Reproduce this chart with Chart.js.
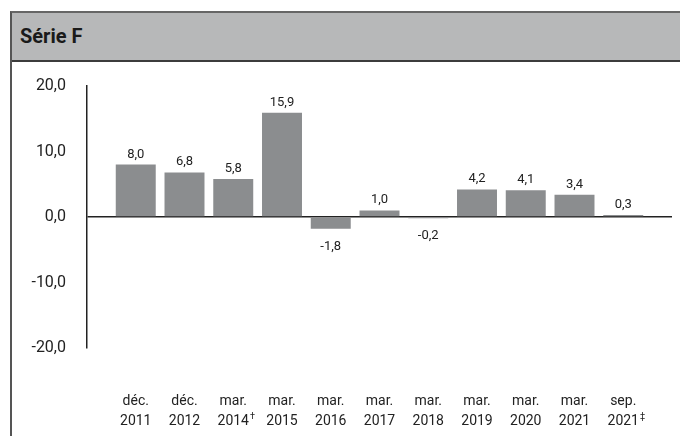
<!DOCTYPE html>
<html lang="fr">
<head>
<meta charset="utf-8">
<title>Série F</title>
<script src="https://cdn.jsdelivr.net/npm/chart.js@4.4.1/dist/chart.umd.min.js"></script>
<style>
  html, body { margin: 0; padding: 0; background: #fff; }
  body { width: 680px; height: 436px; position: relative; overflow: hidden;
         font-family: Roboto, "Liberation Sans", sans-serif; }
  .panel { position: absolute; left: 10px; top: 11px; right: 0; bottom: 0;
           border-left: 2px solid #555; border-top: 2px solid #666; }
  .panel h1 { margin: 0; height: 47px; line-height: 47px; background: #b7b8b9;
              border-bottom: 2px solid #3c3c3c; padding-left: 8px;
              font-size: 20px; font-weight: 700; color: #1a1a1a; }
  #chart { position: absolute; left: 0; top: 0; }
</style>
</head>
<body>
<div class="panel"><h1>Série F</h1></div>
<canvas id="chart" width="680" height="436"></canvas>
<script>
const months = ['déc.', 'déc.', 'mar.', 'mar.', 'mar.', 'mar.', 'mar.', 'mar.', 'mar.', 'mar.', 'sep.'];
const years = ['2011', '2012', '2014', '2015', '2016', '2017', '2018', '2019', '2020', '2021', '2021'];
const notes = ['', '', '†', '', '', '', '', '', '', '', '‡'];
const values = [8.0, 6.8, 5.8, 15.9, -1.8, 1.0, -0.2, 4.2, 4.1, 3.4, 0.3];
const yTicks = [-20, -10, 0, 10, 20];

const FONT = 'Roboto, "Liberation Sans", sans-serif';
const INK = '#222';
const LABEL_GAP = 43;   // space between plot bottom and first label line
const LINE_H = 20;

const fmt = v => v.toFixed(1).replace('.', ',');

// one empty slot on each side so the bars sit inside the axis span
const labels = [''].concat(months.map((m, i) => [m, years[i]]), ['']);
const data = [null].concat(values, [null]);

// value above positive bars, below negative ones
const valueLabels = {
  id: 'valueLabels',
  afterDatasetsDraw(chart) {
    const ctx = chart.ctx;
    const meta = chart.getDatasetMeta(0);
    ctx.save();
    ctx.font = '13px ' + FONT;
    ctx.fillStyle = INK;
    ctx.textAlign = 'center';
    ctx.textBaseline = 'alphabetic';
    meta.data.forEach((bar, i) => {
      const v = data[i];
      if (v === null) return;
      if (v >= 0) ctx.fillText(fmt(v), bar.x, bar.y - 7);
      else ctx.fillText(fmt(v), bar.x, bar.y + 21);
    });
    ctx.restore();
  }
};

// small raised footnote marks after the year
const footnotes = {
  id: 'footnotes',
  afterDraw(chart) {
    const ctx = chart.ctx;
    const x = chart.scales.x;
    const top = chart.chartArea.bottom + LABEL_GAP + LINE_H * 1.5 - 9;
    ctx.save();
    ctx.fillStyle = INK;
    ctx.textBaseline = 'top';
    ctx.textAlign = 'left';
    notes.forEach((n, i) => {
      if (!n) return;
      ctx.font = '14px ' + FONT;
      const w = ctx.measureText(years[i]).width;
      ctx.font = '9px ' + FONT;
      ctx.fillText(n, x.getPixelForValue(i + 1) + w / 2 + 1, top);
    });
    ctx.restore();
  }
};

new Chart(document.getElementById('chart'), {
  type: 'bar',
  data: {
    labels: labels,
    datasets: [{
      data: data,
      backgroundColor: '#8b8d8f',
      borderWidth: 0,
      barPercentage: 0.82,
      categoryPercentage: 1
    }]
  },
  options: {
    responsive: false,
    animation: false,
    layout: { padding: { top: 86, right: 8, left: 0, bottom: 0 } },
    plugins: { legend: { display: false }, tooltip: { enabled: false } },
    scales: {
      x: {
        offset: false,
        // invisible tick marks push the labels down
        grid: {
          display: true,
          drawOnChartArea: false,
          drawTicks: true,
          tickLength: LABEL_GAP,
          color: 'rgba(0,0,0,0)'
        },
        border: { display: false },
        ticks: {
          autoSkip: false,
          maxRotation: 0,
          padding: 0,
          color: INK,
          font: { family: FONT, size: 14, lineHeight: LINE_H + 'px' }
        },
        afterFit: s => { s.height = 88; }
      },
      y: {
        min: yTicks[0],
        max: yTicks[yTicks.length - 1],
        z: 1,
        afterBuildTicks: s => { s.ticks = yTicks.map(v => ({ value: v })); },
        border: { display: true, color: INK, width: 1.5 },
        grid: {
          drawTicks: false,
          lineWidth: 1.5,
          color: c => (c.tick && c.tick.value === 0 ? INK : 'rgba(0,0,0,0)')
        },
        ticks: {
          padding: 21,
          color: INK,
          font: { family: FONT, size: 16 },
          callback: v => fmt(v)
        },
        afterFit: s => { s.width = 87; }
      }
    }
  },
  plugins: [valueLabels, footnotes]
});
</script>
</body>
</html>
